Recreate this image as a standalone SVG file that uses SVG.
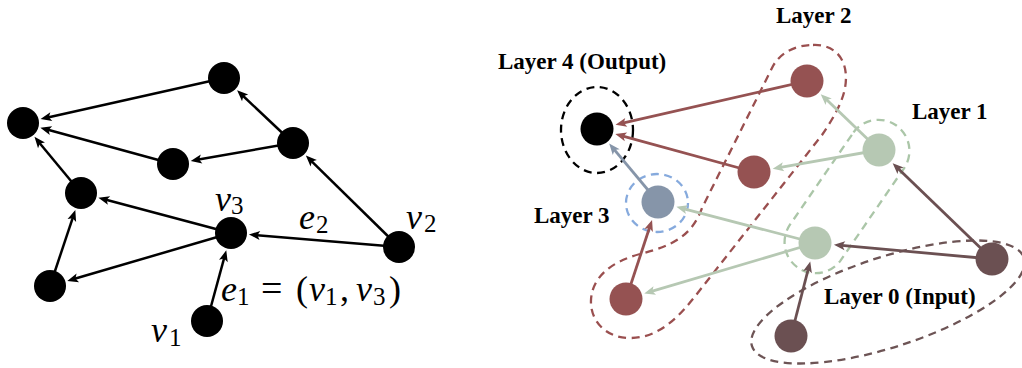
<svg xmlns="http://www.w3.org/2000/svg" width="1022" height="368" viewBox="0 0 1022 368">
<style>
.mi{font-family:"Liberation Serif","Times New Roman",serif;font-style:italic;font-size:36px;fill:#000}
.mr{font-family:"Liberation Serif","Times New Roman",serif;font-style:normal;font-size:25px;fill:#000}
.mo{font-family:"Liberation Serif","Times New Roman",serif;font-style:normal;font-size:38px;fill:#000}
.lbl{font-family:"Liberation Serif","Times New Roman",serif;font-weight:bold;font-size:23px;fill:#000}
.ek{stroke:#000;stroke-width:2.5;fill:none;marker-end:url(#ak)}
.er{stroke:#955252;stroke-width:2.8;fill:none;marker-end:url(#ar)}
.eg{stroke:#b6c8b3;stroke-width:2.8;fill:none;marker-end:url(#ag)}
.eb{stroke:#8695a9;stroke-width:2.8;fill:none;marker-end:url(#ab)}
.ew{stroke:#6b5052;stroke-width:2.8;fill:none;marker-end:url(#aw)}
.nk{fill:#000}
.nr{fill:#955252}
.ng{fill:#b6c8b3}
.nb{fill:#8695a9}
.nw{fill:#6b5052}
.dash{fill:none;stroke-width:2.3;stroke-dasharray:8 5.5}
</style>
<defs>
<marker id="ak" markerUnits="userSpaceOnUse" viewBox="-20 -10 40 20" markerWidth="40" markerHeight="20" refX="0" refY="0" orient="auto"><path d="M -6,-4.5 L 5,0 L -6,4.5 L -3.5,0 Z" fill="#000"/></marker>
<marker id="ar" markerUnits="userSpaceOnUse" viewBox="-20 -10 40 20" markerWidth="40" markerHeight="20" refX="0" refY="0" orient="auto"><path d="M -6,-4.5 L 5,0 L -6,4.5 L -3.5,0 Z" fill="#955252"/></marker>
<marker id="ag" markerUnits="userSpaceOnUse" viewBox="-20 -10 40 20" markerWidth="40" markerHeight="20" refX="0" refY="0" orient="auto"><path d="M -6,-4.5 L 5,0 L -6,4.5 L -3.5,0 Z" fill="#b6c8b3"/></marker>
<marker id="ab" markerUnits="userSpaceOnUse" viewBox="-20 -10 40 20" markerWidth="40" markerHeight="20" refX="0" refY="0" orient="auto"><path d="M -6,-4.5 L 5,0 L -6,4.5 L -3.5,0 Z" fill="#8695a9"/></marker>
<marker id="aw" markerUnits="userSpaceOnUse" viewBox="-20 -10 40 20" markerWidth="40" markerHeight="20" refX="0" refY="0" orient="auto"><path d="M -6,-4.5 L 5,0 L -6,4.5 L -3.5,0 Z" fill="#6b5052"/></marker>
</defs>

<!-- layer outlines -->
<g id="outlines">
<ellipse id="outline-layer4" class="dash" cx="597" cy="130" rx="36" ry="43" stroke="#000"/>
<ellipse id="outline-layer3" class="dash" cx="657" cy="203" rx="31" ry="29" stroke="#86aadd"/>
<path id="outline-layer2" class="dash" stroke="#9a4f4f" d="M 813,45 C 835,44 850,60 845,88 C 842,104 832,120 822,135 L 700,290 C 680,316 660,338 630,338 C 605,338 590,320 591,300 C 592,278 610,262 640,254 C 672,246 692,236 702,208 L 773,66 C 781,52 796,45 813,45 Z"/>
<path id="outline-layer1" class="dash" stroke="#abc6a8" d="M 853.5,132.4 A 31 31 0 0 1 904.5,167.6 L 840.5,260.6 A 31 31 0 0 1 789.5,225.4 Z"/>
<ellipse id="outline-layer0" class="dash" cx="888" cy="302" rx="143" ry="45" transform="rotate(-18 888 302)" stroke="#6d5455" stroke-dasharray="10 7"/>
</g>

<!-- connectors -->
<g id="connectors">
<line class="ek" x1="224" y1="78" x2="45.45" y2="117.97"/>
<line class="ek" x1="173" y1="164" x2="45.19" y2="129.06"/>
<line class="ek" x1="81" y1="193" x2="37.67" y2="140.71"/>
<line class="ek" x1="293" y1="143" x2="240.74" y2="93.77"/>
<line class="ek" x1="293" y1="143" x2="195.66" y2="160.04"/>
<line class="ek" x1="399" y1="247" x2="309.42" y2="159.11"/>
<line class="ek" x1="231" y1="233" x2="103.22" y2="198.93"/>
<line class="ek" x1="231" y1="233" x2="72.07" y2="279.54"/>
<line class="ek" x1="50" y1="286" x2="73.73" y2="214.82"/>
<line class="ek" x1="207" y1="321" x2="224.95" y2="255.19"/>
<line class="ek" x1="399" y1="247" x2="253.92" y2="234.91"/>

<line class="er" x1="807" y1="81" x2="620.4" y2="123.65"/>
<line class="er" x1="754" y1="172" x2="620.15" y2="135.34"/>
<line class="eb" x1="658" y1="202" x2="612.39" y2="147.42"/>
<line class="eg" x1="879" y1="150" x2="824.33" y2="97.61"/>
<line class="eg" x1="879" y1="150" x2="777.64" y2="167.84"/>
<line class="eg" x1="815" y1="243" x2="681.22" y2="208.06"/>
<line class="eg" x1="815" y1="243" x2="649.01" y2="292.18"/>
<line class="er" x1="626" y1="299" x2="650.48" y2="224.79"/>
<line class="ew" x1="992" y1="259" x2="896.27" y2="166.66"/>
<line class="ew" x1="992" y1="259" x2="838.9" y2="245.16"/>
<line class="ew" x1="791" y1="336" x2="809" y2="266.24"/>
</g>

<!-- left graph nodes -->
<g id="n-a"><circle class="nk" cx="224" cy="78" r="16"/></g>
<g id="n-b"><circle class="nk" cx="23" cy="123" r="16"/></g>
<g id="n-c"><circle class="nk" cx="293" cy="143" r="16"/></g>
<g id="n-d"><circle class="nk" cx="173" cy="164" r="16"/></g>
<g id="n-e"><circle class="nk" cx="81" cy="193" r="16"/></g>
<g id="n-f"><circle class="nk" cx="50" cy="286" r="16"/></g>
<g id="n-v3"><circle class="nk" cx="231" cy="233" r="16"/>
<text class="mi" x="215" y="211">v<tspan class="mr" x="231" y="214">3</tspan></text></g>
<g id="n-v2"><circle class="nk" cx="399" cy="247" r="16"/>
<text class="mi" x="406" y="229">v<tspan class="mr" x="424" y="232">2</tspan></text></g>
<g id="n-v1"><circle class="nk" cx="207" cy="321" r="16"/>
<text class="mi" x="151" y="342">v<tspan class="mr" x="169" y="346">1</tspan></text></g>
<g id="label-e2"><text class="mi" x="299" y="229">e<tspan class="mr" x="316" y="233">2</tspan></text></g>
<g id="label-e1"><text class="mi" x="221" y="301">e<tspan class="mr" x="237" y="305">1</tspan><tspan class="mo" x="261" y="301">=</tspan><tspan x="296" y="301" font-style="normal">(</tspan><tspan x="309" y="301">v</tspan><tspan class="mr" x="325" y="305">1</tspan><tspan x="340" y="301" font-style="normal">,</tspan><tspan x="356" y="301">v</tspan><tspan class="mr" x="373" y="305">3</tspan><tspan x="389" y="301" font-style="normal">)</tspan></text></g>

<!-- right graph nodes -->
<g id="n-output"><circle class="nk" cx="597" cy="129" r="16.5"/></g>
<g id="n-l2a"><circle class="nr" cx="807" cy="81" r="16.5"/></g>
<g id="n-l2b"><circle class="nr" cx="754" cy="172" r="16.5"/></g>
<g id="n-l2c"><circle class="nr" cx="626" cy="299" r="16.5"/></g>
<g id="n-l3"><circle class="nb" cx="658" cy="202" r="16.5"/></g>
<g id="n-l1a"><circle class="ng" cx="879" cy="150" r="16.5"/></g>
<g id="n-l1b"><circle class="ng" cx="815" cy="243" r="16.5"/></g>
<g id="n-i1"><circle class="nw" cx="992" cy="259" r="16.5"/></g>
<g id="n-i2"><circle class="nw" cx="791" cy="336" r="16.5"/></g>

<!-- layer labels -->
<g id="labels">
<text class="lbl" x="776" y="23">Layer 2</text>
<text class="lbl" x="498" y="69">Layer 4 (Output)</text>
<text class="lbl" x="912" y="119">Layer 1</text>
<text class="lbl" x="534" y="223">Layer 3</text>
<text class="lbl" x="824" y="304">Layer 0 (Input)</text>
</g>
</svg>
